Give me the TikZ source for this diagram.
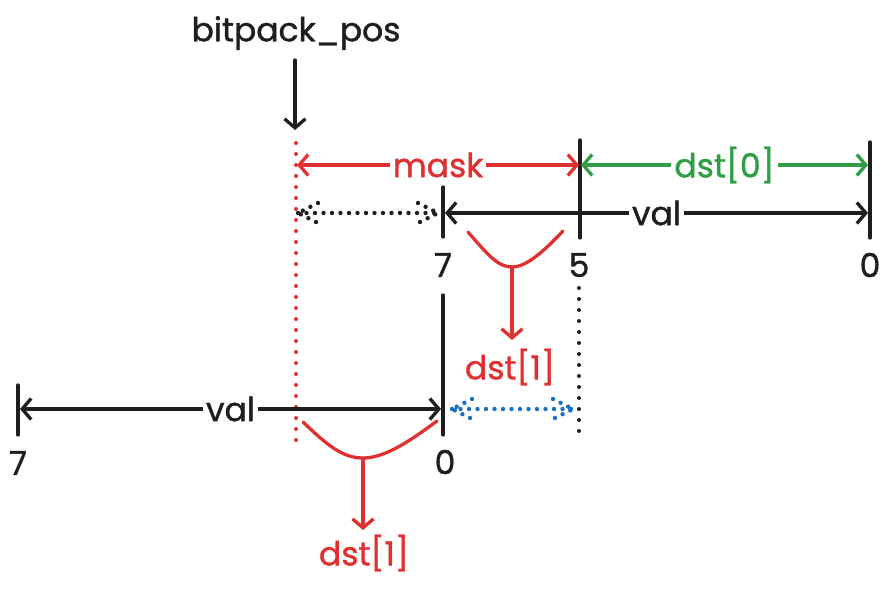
\documentclass[tikz,border=0pt]{standalone}
\usepackage{fontspec}
\setmainfont{Poppins}[FakeBold=1.2]
\usetikzlibrary{arrows.meta}
\definecolor{ink}{HTML}{1E1E1E}
\definecolor{xred}{HTML}{E03131}
\definecolor{xgreen}{HTML}{2F9E44}
\definecolor{xblue}{HTML}{1971C2}
\begin{document}
\begin{tikzpicture}[x=1pt,y=-1pt,
  line cap=round, line join=round,
  stroke/.style={line width=3.3pt},
  oneway/.style={stroke,-{Straight Barb[length=9pt,width=21pt]}},
  twoway/.style={stroke,{Straight Barb[length=9pt,width=21pt]}-{Straight Barb[length=9pt,width=21pt]}},
  dots/.style={line width=4pt, dash pattern=on 0pt off 11pt, line cap=round},
  fdots/.style={line width=4.4pt, dash pattern=on 0pt off 8.5pt, line cap=round},
  lbl/.style={font=\fontsize{33}{37}\selectfont, inner sep=1pt},
  onl/.style={lbl, fill=white, inner xsep=3pt}
]
\useasboundingbox (0,0) rectangle (894,591);

% --- coordinates
\coordinate (bpS) at (295,60);
\coordinate (bpE) at (295,130);
\coordinate (rdT) at (296,143);
\coordinate (rdB) at (296,442);
\coordinate (t5T) at (580,140);
\coordinate (t5B) at (580,238);
\coordinate (t0T) at (870,142);
\coordinate (t0B) at (870,238);
\coordinate (t7T) at (443,187);
\coordinate (t7B) at (443,237);
\coordinate (mL) at (297,165);
\coordinate (mR) at (579,165);
\coordinate (gL) at (581,165);
\coordinate (gR) at (868,165);
\coordinate (vL) at (445,213);
\coordinate (vR) at (868,213);
\coordinate (dL) at (298,213);
\coordinate (dR) at (438,213);
\coordinate (u0T) at (443,295);
\coordinate (u0B) at (443,435);
\coordinate (u7T) at (18,385);
\coordinate (u7B) at (18,435);
\coordinate (bdT) at (579,288);
\coordinate (bdB) at (579,438);
\coordinate (wL) at (20,409);
\coordinate (wR) at (441,409);
\coordinate (bL) at (452,409);
\coordinate (bR) at (573,409);
\coordinate (vA) at (512,267);
\coordinate (vAE) at (512,340);
\coordinate (wA) at (363,458);
\coordinate (wAE) at (363,530);

% --- texts
\node[lbl, text=ink] (bp) at (296,33) {bitpack\_pos};
\node[lbl, text=ink] (n7a) at (443,265) {7};
\node[lbl, text=ink] (n5a) at (579,265) {5};
\node[lbl, text=ink] (n0a) at (870,265) {0};
\node[lbl, text=ink] (n7b) at (18,463) {7};
\node[lbl, text=ink] (n0b) at (445,462) {0};
\node[lbl, text=xred] (d1a) at (510,367) {dst[1]};
\node[lbl, text=xred] (d1b) at (364,553) {dst[1]};

% --- bitpack_pos arrow
\draw[oneway, ink] (bpS) -- (bpE);

% --- vertical guides
\draw[dots, xred] (rdT) -- (rdB);
\draw[dots, ink] (bdT) -- (bdB);
\draw[stroke, ink] (t5T) -- (t5B);
\draw[stroke, ink] (t0T) -- (t0B);
\draw[stroke, ink] (t7T) -- (t7B);
\draw[stroke, ink] (u0T) -- (u0B);
\draw[stroke, ink] (u7T) -- (u7B);

% --- dimension arrows
\draw[twoway, xred] (mL) -- node[onl, text=xred] (mask) {mask} (mR);
\draw[twoway, xgreen] (gL) -- node[onl, text=xgreen] (d0) {dst[0]} (gR);
\draw[twoway, ink] (vL) -- node[onl, text=ink, pos=0.5] (val1) {val} (vR);
\draw[twoway, ink] (wL) -- node[onl, text=ink, pos=0.5] (val2) {val} (wR);

% --- dotted double arrows
\draw[fdots, ink] (dL) -- (dR);
\draw[fdots, ink] (dL) ++(20,-10) -- (dL) -- ++(20,10);
\draw[fdots, ink] (dR) ++(-20,-10) -- (dR) -- ++(-20,10);
\draw[fdots, xblue] (bL) -- (bR);
\draw[fdots, xblue] (bL) ++(20,-10) -- (bL) -- ++(20,10);
\draw[fdots, xblue] (bR) ++(-20,-10) -- (bR) -- ++(-20,10);

% --- red selections
\draw[stroke, xred] (468,232) .. controls (488,255) and (498,267) .. (vA)
  .. controls (527,267) and (545,250) .. (563,231);
\draw[oneway, xred] (vA) -- (vAE);
\draw[stroke, xred] (303,422) .. controls (328,446) and (343,458) .. (wA)
  .. controls (385,458) and (410,441) .. (437,421);
\draw[oneway, xred] (wA) -- (wAE);
\end{tikzpicture}
\end{document}
